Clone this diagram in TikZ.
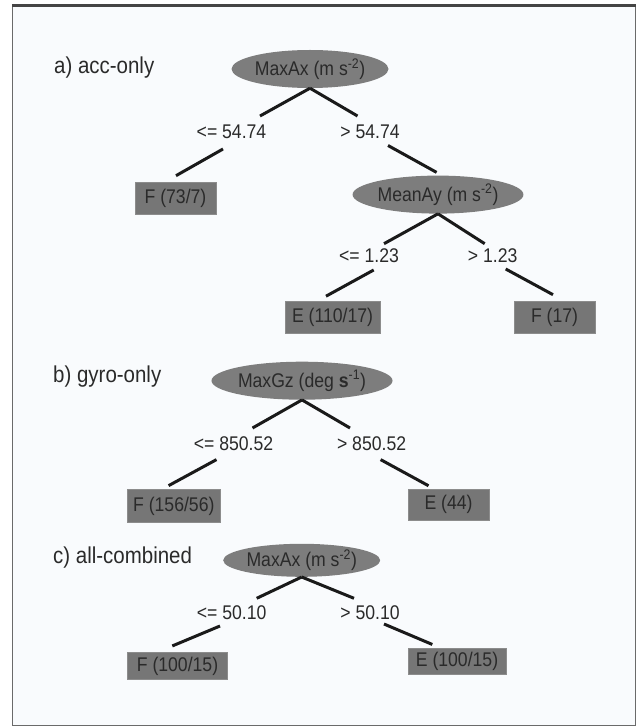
\documentclass[tikz,border=0pt]{standalone}
\usepackage{fontspec}
\setmainfont{Liberation Sans}[FakeStretch=0.89]
\usetikzlibrary{shapes.geometric,calc}
\definecolor{bgc}{HTML}{F9FBFD}
\definecolor{framec}{HTML}{6A6A6A}
\definecolor{frametop}{HTML}{444444}
\definecolor{ellc}{HTML}{7D7D7D}
\definecolor{boxc}{HTML}{767676}
\definecolor{boxedge}{HTML}{8C8C8C}
\definecolor{txtc}{HTML}{2A2A2A}
\definecolor{linec}{HTML}{1A1A1A}
\begin{document}
\begin{tikzpicture}[x=1pt,y=-1pt,
  split/.style={ellipse, fill=ellc, text=txtc, inner sep=0pt, minimum width=157pt, minimum height=38pt, font=\fontsize{19.8}{22}\selectfont},
  leaf/.style={rectangle, fill=boxc, draw=boxedge, line width=0.6pt, text=txtc, inner sep=0pt, minimum height=32pt, font=\fontsize{19.8}{22}\selectfont},
  cond/.style={text=txtc, inner sep=0pt, font=\fontsize{19.8}{22}\selectfont},
  ttl/.style={anchor=west, inner sep=0pt, text=txtc, font=\fontsize{23}{26}\selectfont},
  branch/.style={line width=3pt, draw=linec}]
\useasboundingbox (0,0) rectangle (637,727);
\fill[white] (0,0) rectangle (637,727);
\fill[bgc] (12.5,5.5) rectangle (635.5,725.5);
\draw[framec, line width=1.3pt] (12.5,5.5) -- (12.5,725.5) -- (635.5,725.5) -- (635.5,5.5);
\draw[frametop, line width=2.5pt] (11.8,5.5) -- (636.2,5.5);

% a) acc-only
\node[ttl] (titleA) at (54,68) {a) acc-only};
\node[split] (rootA) at (310,69) {MaxAx (m s\textsuperscript{-2})};
\node[cond] (lblA1) at (231.5,132) {<= 54.74};
\node[cond] (lblA2) at (370,132) {> 54.74};
\node[leaf, minimum width=81pt] (leafA1) at (175.5,198) {F (73/7)};
\node[split] (midA) at (438,194.6) {MeanAy (m s\textsuperscript{-2})};
\node[cond] (lblA3) at (369,256) {<= 1.23};
\node[cond] (lblA4) at (492.7,256) {> 1.23};
\node[leaf, minimum width=95pt] (leafA2) at (332.5,317.5) {E (110/17)};
\node[leaf, minimum width=81pt] (leafA3) at (554.5,317.5) {F (17)};

\draw[branch] (rootA.south) -- ($(lblA1.center)+(28.5,-16)$);
\draw[branch] ($(lblA1.center)+(-8.5,17)$) -- ($(leafA1.north)+(0.5,-6)$);
\draw[branch] (rootA.south) -- ($(lblA2.center)+(-12.5,-16)$);
\draw[branch] ($(lblA2.center)+(18,13.5)$) -- ($(midA.north)+(-1.4,-3)$);
\draw[branch] (midA.south) -- ($(lblA3.center)+(15,-12.3)$);
\draw[branch] ($(lblA3.center)+(4.7,14)$) -- ($(leafA2.north)+(-6.5,-5)$);
\draw[branch] (midA.south) -- ($(lblA4.center)+(-8,-12.3)$);
\draw[branch] ($(lblA4.center)+(13,13)$) -- ($(leafA3.north)+(-1.5,-6.5)$);

% b) gyro-only
\node[ttl] (titleB) at (53,377) {b) gyro-only};
\node[split] (rootB) at (302,380.7) {MaxGz (deg \textbf{s}\textsuperscript{-1})};
\node[cond] (lblB1) at (233.5,444) {<= 850.52};
\node[cond] (lblB2) at (371.6,444) {> 850.52};
\node[leaf, minimum width=93.5pt, minimum height=32.5pt] (leafB1) at (173.8,506) {F (156/56)};
\node[leaf, minimum width=81.6pt, minimum height=31.5pt] (leafB2) at (448.6,504.8) {E (44)};

\draw[branch] (rootB.south) -- ($(lblB1.center)+(19,-16)$);
\draw[branch] ($(lblB1.center)+(-17,15.6)$) -- ($(leafB1.north)+(-5.2,-3.8)$);
\draw[branch] (rootB.south) -- ($(lblB2.center)+(-21.6,-16)$);
\draw[branch] ($(lblB2.center)+(9,15.6)$) -- ($(leafB2.north)+(-20.1,-3)$);

% c) all-combined
\node[ttl] (titleC) at (53,558) {c) all-combined};
\node[split, minimum height=33pt] (rootC) at (301.7,560.3) {MaxAx (m s\textsuperscript{-2})};
\node[cond] (lblC1) at (231.7,612.7) {<= 50.10};
\node[cond] (lblC2) at (370,612.7) {> 50.10};
\node[leaf, minimum width=100.4pt, minimum height=27.5pt] (leafC1) at (177.5,666) {F (100/15)};
\node[leaf, minimum width=97.7pt, minimum height=26.5pt] (leafC2) at (457,661.3) {E (100/15)};

\draw[branch] (rootC.south) -- ($(lblC1.center)+(25,-14.4)$);
\draw[branch] ($(lblC1.center)+(-11.7,13.3)$) -- ($(leafC1.north)+(-5.2,-6)$);
\draw[branch] (rootC.south) -- ($(lblC2.center)+(-16,-14.4)$);
\draw[branch] ($(lblC2.center)+(14,11.3)$) -- ($(leafC2.north)+(-24.7,-3.3)$);
\end{tikzpicture}
\end{document}
